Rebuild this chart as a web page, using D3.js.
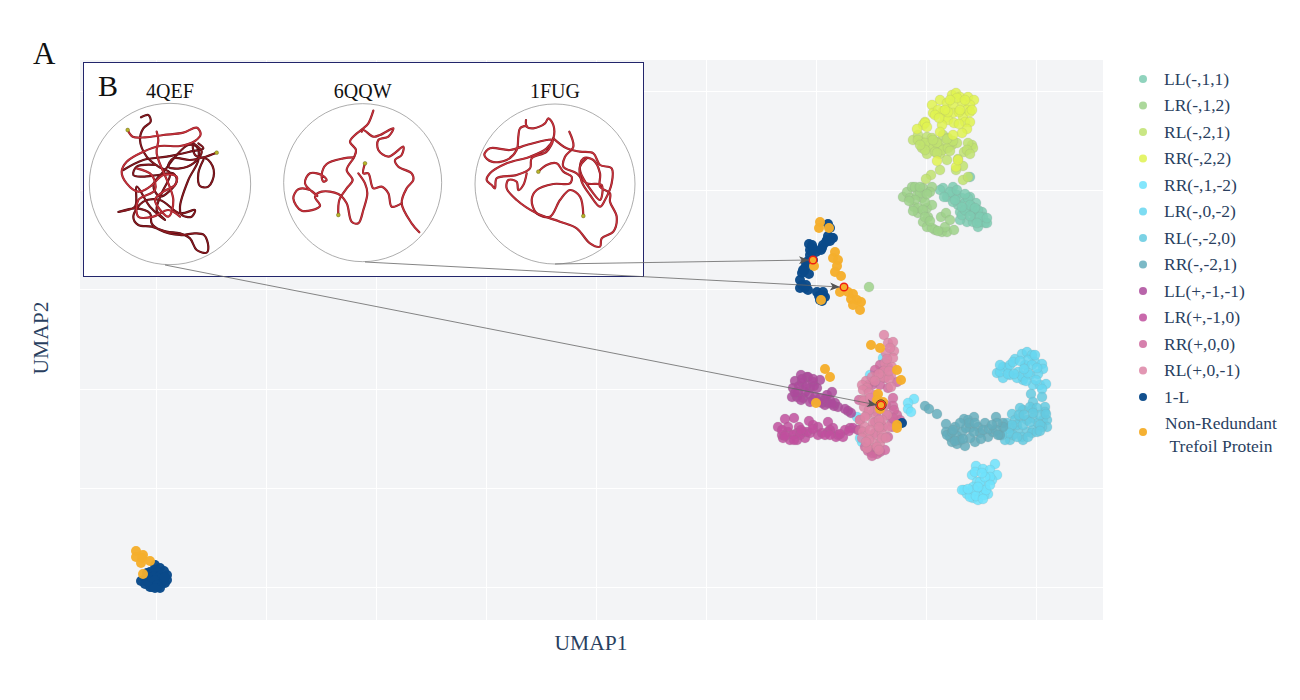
<!DOCTYPE html>
<html><head><meta charset="utf-8">
<script src="https://cdn.jsdelivr.net/npm/d3@7/dist/d3.min.js"></script>
<style>html,body{margin:0;padding:0;background:#fff}svg{display:block}text{font-family:"Liberation Serif",serif}</style>
</head><body><div id="chart"></div>
<script>
// UMAP embedding values [umap1, umap2]
const LL_m_1_1=[[86.3,43.2],[87.3,43.3],[86,43],[86.7,42.3],[87.2,42.7],[87.7,42.5],[88.2,42.2],[89,42.3],[87.8,41.5],[88.5,41.7],[89.6,41.7],[87.3,41.8],[88.7,40.8],[89.3,40.8],[90.2,40.8],[88,40.8],[88.7,39.8],[88,40],[89.5,40.2],[90.5,39.7],[89.8,39.3],[89.3,39.8],[90.3,40.3],[88.8,42.2],[89.2,41.3],[88.2,40.5],[90,39.8],[89,44.3],[90.7,39.7],[87.5,42],[88.5,41],[89,41.5],[89.8,41],[90,40.3],[88.2,41.3],[87,42.8],[86.4,42.3],[89.5,41.2],[90.7,40.2],[89,40.4],[89.7,39.7],[87.7,43],[88.5,42.6]];
const LR_m_1_2=[[82.3,42.3],[82.7,42.8],[83.2,43.3],[83,42.2],[83.7,42.5],[84.3,43.2],[85.2,43.3],[84.2,42.2],[83.4,41.3],[83.8,40.7],[84.7,41.2],[85.2,41.5],[84.3,39.8],[84.8,40.3],[84.7,39.3],[85.5,39],[86.2,38.8],[86.7,38.8],[87.4,39],[86.5,39.3],[86.1,40.3],[86.6,40.7],[87,40],[83.5,43.3],[84,42.7],[84.5,41.8],[85,42.8],[85.2,39.2],[78.9,33.3],[83.5,42],[84,43.3],[84.7,42.6],[83.8,41.2],[84.3,41],[84.5,40.3],[85,39.9],[85.8,38.9],[82.9,41.9],[83.3,40.9]];
const RL_m_2_1=[[83.3,48],[83.8,48.5],[84.2,47.8],[84.7,48.3],[85.2,48.2],[85.7,47.8],[86.3,48.5],[86.5,47.7],[87.2,47.5],[87.7,47.7],[84.2,47.2],[84.7,46.6],[85.3,47.3],[86,47.2],[86,46.6],[86.8,48.2],[85,47.5],[88.4,46.8],[89.2,47.5],[89.3,47.2],[88.8,47.7],[83.8,48],[86.7,46],[86,45],[85.1,44.5],[84.6,44.1],[87.8,46.1],[88.3,45.4],[87.6,45],[88.3,44],[88.8,44.3],[85.7,47.7],[86.3,47],[84.5,47.7],[84.5,47],[85.5,46.8],[86.8,47.2],[87.3,47.9],[84,47.5],[88.7,47],[85.3,48],[86.7,48.1],[87,46.9],[85.7,46.7],[89,46.6]];
const RR_m_2_2=[[87.2,52.5],[87.6,52.7],[88,52.3],[88.8,52.3],[89.4,52],[86,52],[85.2,51.5],[86.7,51.7],[88.2,51.8],[89,51.5],[87.3,51.5],[85.3,50.7],[86.3,50.9],[87.3,50.7],[88.7,51],[88.3,50.3],[86.5,50.2],[86.8,50],[87.4,49.7],[88.5,49.8],[89,49.8],[84.5,49.8],[84.3,49.5],[83.7,49.1],[86.2,49.5],[88.7,49.1],[86,48.8],[88.2,48.7],[87.3,48.5],[85.7,45.9],[87.6,45.3],[87.8,46],[89,50.8],[85.8,51],[85.5,50.5],[86.8,50.8],[87.7,52.2],[84.5,49.7],[84.7,49.3],[87,52],[88.5,52],[86.5,51],[87.9,50.8],[85.9,50.2],[89.2,51],[88,51],[87.9,49.6]];
const RR_m_1_m2=[[89.6,15.4],[91.5,15.6],[89.2,14.5],[90.3,15.1],[91,15],[91.7,14.5],[89.7,13.8],[91.2,14],[90.5,13.5],[88.4,13],[88.7,12.6],[89.3,12.2],[89.9,12.8],[90.8,12.6],[89.8,12],[89.3,13.3],[88.2,13],[91,14.3],[89,12.3],[90,13.8],[83.4,22.1],[82.8,21.7],[82.8,21.1],[83.1,20.8],[79,24.5],[79.5,23.8],[80.3,26.2],[77.7,20.3],[78.2,17.8],[78,18.2],[89.5,14.8],[90.5,14.3],[90.2,14.7],[89.4,13],[90.2,12.8],[89.6,12.4],[90.4,12.5],[88.8,13.1],[90.6,13],[89.8,13.3],[91,13.5],[90.3,12.1]];
const LR_m_0_m2=[[91.7,24.7],[92.3,25.3],[92.7,25.2],[93,24.5],[92.3,24.2],[93.5,26.1],[94.2,26.6],[94.7,26.8],[95.2,26.5],[95.5,25.8],[96.2,25.6],[96.3,25.1],[95.8,24.6],[94.5,25.5],[93.8,24.8],[94.3,24],[95,24.5],[95.3,23.5],[96,23.5],[96.6,23.6],[93.7,24.2],[93,25.5],[94.8,26],[92,24.8],[95.2,25.5],[93.3,25.8],[92,25.5],[92.8,24.6],[94,25.9],[94.2,24.4],[95.7,25.2],[94.6,23.9],[95.6,24],[96.2,23.1],[93.4,24.6],[94.8,24.7],[94.4,25.1],[95.5,26.5]];
const RL_m_m2_0=[[95.1,22.6],[96.2,22.3],[95.3,21.8],[95.2,21.1],[96.5,21.3],[94.3,21],[93.2,20.6],[94,20.2],[95.3,20.2],[96.3,20],[96.7,20],[96.5,20.8],[93,19.2],[93.8,19],[94.7,18.8],[95.3,19],[95.8,19.7],[96.7,19.3],[96.2,19.3],[93.5,20],[92.7,19.7],[93,18],[94.2,18.3],[94.3,18],[92.5,19],[95.2,18.7],[93.3,18.5],[92.5,18],[95.7,18.8],[94.7,20],[94,21.2],[95,21.3],[95.7,21.2],[96,20.5],[93.7,19.5],[94.3,19.5],[95,19.8],[93.2,19.5],[96,19.5],[95.3,20.7],[92.9,18.7],[93.7,18.3],[92.2,18.5],[94.8,18.3],[93.9,20.5],[96.6,20.6],[94.4,20.5],[96,18.9]];
const RR_m_m2_1=[[84.5,21.4],[84.9,21.1],[85.7,20.6],[86.6,19.6],[88.4,20.1],[89.4,20.3],[87.5,19.3],[86.6,18.8],[87,18.3],[88.2,18.8],[89,19.2],[89.8,19.3],[90.5,19.7],[91.6,20.3],[92.3,19.7],[87.7,17.6],[88.5,17.4],[89.5,17.8],[89,18.2],[90,18.7],[90.8,18.3],[92,18.5],[91.3,18.8],[92.3,19.3],[91.7,19.7],[87.2,17.8],[86.7,18.5],[88.8,20],[87.2,18.8],[87.7,18.4],[88.6,19.2],[89.4,18.8],[90.3,19],[90.9,19.1],[91.6,19],[88,18],[87.5,17.9],[88.9,19.7],[89.5,19.7],[90.1,18.1],[87.3,19],[91.2,19.5],[91.8,18.5],[88.3,18.1],[88,19.7]];
const LL_p_m1_m1=[[71.5,23.9],[72.1,24.5],[72.7,24.3],[74,24],[73,23.2],[73.7,23.2],[71.3,23.2],[71.2,22.3],[71.8,22.8],[72.3,22.2],[73.3,22],[74.5,21.5],[75.2,22.8],[75,22],[75.8,21.3],[76.8,20.9],[77.1,20.7],[72.8,24.3],[72.2,23.7],[73.3,23.8],[71.7,22.3],[72.5,22.8],[74.2,21.7],[75.5,21.7],[74.8,21.7],[71.9,23.4],[72.6,23.4],[73.4,23.4],[72.9,22.6],[73.5,22.3],[74,22.2],[74.5,22.1],[71.5,22.7],[74.7,22.5],[72.1,22],[73,21.8],[75.4,21.4],[73.9,21.8],[72.2,24.1],[73.3,24.1],[75.2,21.6],[76.5,21.1]];
const LR_p_m1_0=[[70.5,20.1],[69.8,19.3],[71.4,20.2],[72.9,19.9],[74.8,19.8],[71.9,19.3],[73.8,19.3],[70.2,18.5],[70.8,18.8],[71,18],[71.7,18],[72.5,18.2],[73,18.7],[73.8,18.5],[74.8,18.8],[75.8,18.5],[76.3,18.3],[75.3,19.2],[77,19.2],[77.8,19],[72.3,18.8],[73.3,19.5],[70.3,18.2],[71.7,18.7],[76.5,19],[77.3,19.2],[70.8,19.3],[70.2,19],[71.3,18.5],[72,18.5],[72.7,18.8],[74.2,18.7],[75,19],[75.6,18.3],[76,18.6],[70.5,18.4],[71.4,18],[74.5,18.5],[72.1,19],[73.3,19.1],[76.9,18.9],[75,18.5]];
const RR_p_0_0=[[80,25.5],[80.8,25.3],[79.7,24.5],[80.5,24.2],[81.7,23.8],[80,23.5],[79.2,23.5],[77.9,22],[81.3,22.2],[81.3,21.4],[81.7,20.5],[80,19.8],[81.2,19.8],[80.7,20.5],[79,21.7],[80.8,18.3],[80,16.8],[79.2,16.7],[78.5,17.3],[79.5,18.7],[80.3,19.3],[78,20],[79.7,20.8],[81.2,19.3],[79,17],[82,20],[78,19],[79.5,25],[80.3,24.9],[79.3,23.9],[78.8,23.5],[80.8,23.2],[81.4,21],[80.6,21.5],[79.5,19.8],[79.6,17.2],[80.5,17],[79.7,16.6],[78.8,16.9],[79.2,16.4],[81.3,20.2]];
const RL_p_0_m1=[[80.4,28.5],[80.8,27.7],[81.3,27.8],[81.4,26.9],[80.6,26.7],[81.3,26.2],[80.5,25.7],[81.2,25.3],[80.4,24.9],[81.1,24.5],[80.3,24.3],[80.9,24.1],[81.1,23.3],[78.6,23.9],[79.2,24.3],[78.2,23.5],[78.7,23.2],[79.5,22.5],[78.3,22],[78.4,21.3],[79.3,20.7],[78.7,20.5],[79.5,21.2],[80.3,21.3],[80.7,20.5],[78,20],[78.5,19.3],[79.3,19.7],[80,19.2],[80.8,19.3],[78.3,18.8],[79.5,18.5],[78.8,18.5],[78.2,18.2],[80,17.7],[79.3,17.7],[78.7,17.2],[79.7,17.3],[80.2,20],[79.2,21.7],[80.7,26.1],[81,27.2],[79.9,24.6],[80.9,24.9],[79.5,23.9],[78.3,23],[78.9,22.7],[79.9,20],[78.9,21],[79.8,21.5],[80.2,18.6],[79,19],[78.5,20.3],[78.9,18],[80.2,18.2],[79.9,17],[78.4,21.9],[79,22.2],[79.9,19.3],[78.6,17.8],[80.6,18.2]];
const oneL=[[74.8,39.6],[75,39.2],[75.2,38.2],[74.7,38],[74.3,37.5],[72.9,37.6],[73.3,37.2],[73,36.5],[73.3,36],[72.5,35.2],[72.2,34.7],[72.9,34.6],[72,34],[72,33.2],[72.5,33.2],[72.8,33],[73.7,32.8],[74.3,32.5],[74,32],[74.5,32.3],[74.2,31.9],[73.2,36.8],[75.3,38.2],[74.2,37.2],[72.3,35],[72.2,33.5],[82.2,19.7],[73.6,36.8],[74.1,37],[74.6,37.8],[75,37.9],[74.8,38.4],[73,37],[73.2,37.5],[72.6,35.7],[72.8,35.9],[72.4,34.9],[72.6,33.5],[74.3,32.8],[73.9,32.4],[7.5,5.5],[8,5.2],[7,4.8],[8.7,4.5],[8.2,4.3],[7.3,4.3],[6.7,4.7],[6.1,3.9],[6.7,3.8],[7.5,3.7],[8.5,3.7],[7.2,3.3],[7.8,3.3],[8,3.8],[7.7,4.8],[6.8,4.2],[8.7,4],[7.2,3.8],[7.5,5],[7.8,4.8],[7.4,4.4],[8,4.4],[7,4],[7.5,4],[8.2,3.7],[7.7,3.5],[6.5,4.1],[8.4,4.9],[8,3.2],[7,3.3],[7.5,3.2],[6.5,3.6],[8.5,4.3]];
const nonRedundant=[[74,39.8],[73.9,39.2],[74.9,39.2],[75.5,36.8],[75.3,36.2],[75.8,36],[75.7,35.4],[75.5,34.8],[76.1,34.4],[73.4,35.4],[74.1,32],[76,32.8],[76.8,32.8],[77.3,32.6],[77.1,32.1],[77.7,32],[78.1,31.8],[77.3,31.5],[78,31],[79.1,27.5],[80,27.2],[81.7,25],[82.1,24],[74.5,25.1],[75,24.3],[73.6,21.7],[79.8,22.6],[79.7,22],[80.3,21.8],[80,21.1],[81.7,19.5],[81.7,19.2],[5.6,6.9],[5.6,6.3],[6.3,6.5],[6.2,6.2],[6.1,5.7],[7,5.9],[6.3,4.6]];
const highlighted=[[73.3,36],[76.4,33.3],[80.1,21.5]];
const xTickValues=[7.6,18.6,29.6,40.6,51.6,62.6,73.6,84.6,95.6];
const yTickValues=[3.3,13.2,23.1,33.1,43,52.9];

const legendLabels=["LL(-,1,1)","LR(-,1,2)","RL(-,2,1)","RR(-,2,2)","RR(-,1,-2)","LR(-,0,-2)","RL(-,-2,0)","RR(-,-2,1)","LL(+,-1,-1)","LR(+,-1,0)","RR(+,0,0)","RL(+,0,-1)","1-L","Non-Redundant|Trefoil Protein"];
const seriesColors=["#7dcbb1","#9dd18a","#c0e26e","#dff250","#6de2fc","#66d6f0","#64cae0","#64adbc","#ab4a9b","#c04f9d","#cf6a9f","#dd85a6","#0a4a8a","#f5ae2c"];
const seriesData=[LL_m_1_1,LR_m_1_2,RL_m_2_1,RR_m_2_2,RR_m_1_m2,LR_m_0_m2,RL_m_m2_0,RR_m_m2_1,LL_p_m1_m1,LR_p_m1_0,RR_p_0_0,RL_p_0_m1,oneL,nonRedundant];

// inset structures, in inset image coordinates
const structNames=["4QEF","6QQW","1FUG"];
const qefDark=[[183,172],[205,165],[212,185],[190,205],[180,240],[200,290],[235,320],[270,340],[245,400],[230,450],[255,480],[210,440],[170,380],[165,440],[115,456],[165,445],[210,460],[215,490],[240,510],[300,525],[345,520],[372,525],[385,560],[380,578],[350,570],[330,535],[300,520],[260,515],[215,500],[175,495],[160,470],[190,425],[240,420],[300,460],[345,450],[335,470],[305,465],[300,440],[325,360],[355,300],[350,260],[325,255],[290,285],[255,330],[220,375],[240,410],[290,365],[280,340],[235,345],[185,350],[160,345],[170,320],[230,315]];
const qefDarkTwo=[[130,330],[190,300],[260,290],[330,275],[370,265],[355,250]];
const qefBright=[[143,210],[158,230],[195,232],[250,225],[310,218],[350,203],[362,222],[345,243],[300,258],[240,258],[190,275],[140,305],[125,335],[140,370],[175,395],[210,380],[250,345],[290,350],[285,375],[250,395],[225,420],[265,470],[280,420],[230,280],[235,240],[230,215]];
const qefBrightTwo=[[170,325],[215,345],[225,390],[175,420],[175,470],[220,470],[265,450],[300,470]];
const qefEnd=[[410,278],[370,292],[330,300],[280,295],[265,320],[300,325],[340,310],[365,275],[340,252],[345,285],[385,300],[402,340],[385,380],[360,378],[355,340],[370,300]];
const qqwOne=[[775,465],[778,420],[800,385],[818,360],[800,330],[822,292],[828,270],[810,245],[825,225],[850,205],[865,190],[880,152]];
const qqwTwo=[[845,215],[850,210],[880,230],[900,225],[940,205],[925,230],[895,240],[895,270],[925,290],[970,260],[965,285],[945,300],[955,320],[995,340],[1000,360],[980,385],[965,430],[995,490],[1018,517]];
const qqwThree=[[855,310],[850,340],[865,340],[880,385],[905,380],[925,400],[935,440],[965,430]];
const qqwFour=[[835,340],[855,370],[862,400],[850,450],[835,490],[815,485],[800,430],[775,402],[725,395],[705,410],[720,438],[665,452],[640,415],[655,388],[690,390],[712,408],[675,370],[690,340],[725,345],[740,360],[730,365],[725,345],[740,312],[790,295],[822,292]];
const fugOne=[[498,180],[500,200],[520,205],[555,190],[565,175],[580,195],[580,235],[560,265],[510,290],[440,310],[390,340],[380,360],[395,375],[405,385],[410,355],[470,345],[510,325],[515,295],[560,275],[578,240],[560,240],[500,255],[450,270],[390,265],[373,285],[395,305],[440,300],[470,270],[475,230],[480,205],[500,197]];
const fugTwo=[[535,335],[560,315],[590,310],[610,335],[635,350],[630,370],[580,372],[530,390],[515,420],[530,460],[570,470],[600,420],[630,390],[660,410],[670,468]];
const fugThree=[[628,215],[640,260],[615,290],[610,320],[650,340],[680,370],[725,375],[720,420],[700,400],[660,330],[670,295],[700,300],[720,340],[720,380],[750,400],[750,425],[770,470],[760,515],[725,535],[720,560],[690,550],[650,505],[600,485],[530,460],[470,420],[440,385],[445,360],[470,365],[475,390],[490,375],[500,340]];
const fugFour=[[580,235],[620,265],[660,275],[700,280],[720,315],[755,325],[755,370],[735,420],[720,440],[690,405],[665,365],[660,320],[680,295]];
const structCircles=[[270,372,242],[848,368,237],[1425,372,240]];
const structTitleX=[270,848,1425];
const endDots=[[143,210],[410,278],[775,465],[855,310],[1375,335],[1510,468]];
const connectorStarts=[[1425,612],[855,606],[255,615]];

const W=1300,H=700;
const m={l:80,r:1103,t:60,b:620};
const x=d3.scaleLinear().domain([0,102.3]).range([m.l,m.r]);
const y=d3.scaleLinear().domain([0,56]).range([m.b,m.t]);
const ix=d3.scaleLinear().domain([0,870]).range([80,370]);
const iy=d3.scaleLinear().domain([0,660]).range([60,280]);

const svg=d3.select("#chart").append("svg").attr("width",W).attr("height",H);
const defs=svg.append("defs");
defs.append("marker").attr("id","arrow").attr("viewBox","0 0 10 8").attr("refX",10).attr("refY",4)
 .attr("markerWidth",10).attr("markerHeight",8).attr("markerUnits","userSpaceOnUse").attr("orient","auto")
 .append("path").attr("d","M0,0L10,4L0,8L2.5,4Z").attr("fill","#555");

svg.append("rect").attr("x",m.l).attr("y",m.t).attr("width",m.r-m.l).attr("height",m.b-m.t).attr("fill","#f3f4f6");
const gx=svg.append("g").attr("transform",`translate(0,${m.b})`)
 .call(d3.axisBottom(x).tickValues(xTickValues).tickSize(-(m.b-m.t)).tickFormat(""));
const gy=svg.append("g").attr("transform",`translate(${m.l},0)`)
 .call(d3.axisLeft(y).tickValues(yTickValues).tickSize(-(m.r-m.l)).tickFormat(""));
[gx,gy].forEach(g=>{g.select(".domain").remove();g.selectAll("line").attr("stroke","#fff").attr("stroke-width",1);});

seriesData.forEach((pts,i)=>{
  const isL=i>=12;
  svg.append("g").selectAll("circle").data(pts).join("circle")
   .attr("cx",d=>x(d[0])).attr("cy",d=>y(d[1])).attr("r",5)
   .attr("fill",seriesColors[i]).attr("fill-opacity",isL?0.97:0.85)
   .attr("stroke",isL?"none":"#888").attr("stroke-opacity",0.3).attr("stroke-width",0.5);
});

// inset
svg.append("rect").attr("x",83.5).attr("y",62.5).attr("width",560).attr("height",214)
 .attr("fill","#fff").attr("stroke","#22256b").attr("stroke-width",1);
structCircles.forEach(c=>{
  svg.append("circle").attr("cx",ix(c[0])).attr("cy",iy(c[1])).attr("r",c[2]/3)
   .attr("fill","none").attr("stroke","#8a8a8a").attr("stroke-width",0.7);
});
const tube=d3.line().x(d=>ix(d[0])).y(d=>iy(d[1])).curve(d3.curveCatmullRom.alpha(0.5));
function strand(pts,off,dark){
  const p=pts.map(d=>[d[0]+off,d[1]]);
  svg.append("path").attr("d",tube(p)).attr("fill","none").attr("stroke",dark?"#4a0a10":"#8a1a20").attr("stroke-width",2.2).attr("stroke-linecap","round");
  svg.append("path").attr("d",tube(p)).attr("fill","none").attr("stroke",dark?"#8c1a20":"#c9343e").attr("stroke-width",1.2).attr("stroke-linecap","round");
}
strand(qefDark,0,true);strand(qefDarkTwo,0,true);strand(qefBright,0,false);strand(qefBrightTwo,0,false);strand(qefEnd,0,true);
strand(qqwOne,0,false);strand(qqwTwo,0,false);strand(qqwThree,0,false);strand(qqwFour,0,false);
[fugOne,fugTwo,fugThree,fugFour].forEach(s=>strand(s,840,false));
svg.append("g").selectAll("circle").data(endDots).join("circle")
 .attr("cx",d=>ix(d[0])).attr("cy",d=>iy(d[1])).attr("r",1.9).attr("fill","#b9b42a").attr("stroke","#55520f").attr("stroke-width",0.4);
structNames.forEach((n,i)=>{
  svg.append("text").attr("x",ix(structTitleX[i])).attr("y",98).attr("text-anchor","middle")
   .attr("font-size",20).attr("fill","#111").text(n);
});
svg.append("text").attr("x",98).attr("y",96).attr("font-size",30).attr("fill","#111").text("B");
svg.append("text").attr("x",33).attr("y",64).attr("font-size",31).attr("fill","#111").text("A");

// highlighted points + connectors
svg.append("g").selectAll("circle").data(highlighted).join("circle")
 .attr("cx",d=>x(d[0])).attr("cy",d=>y(d[1])).attr("r",3.8)
 .attr("fill","#f5ae2c").attr("stroke","#f01d12").attr("stroke-width",1.4);
svg.append("circle").attr("cx",x(highlighted[2][0])).attr("cy",y(highlighted[2][1])).attr("r",5.2).attr("fill","none").attr("stroke","#3a1a10").attr("stroke-width",0.7);
connectorStarts.forEach((s,i)=>{
  svg.append("line").attr("x1",ix(s[0])).attr("y1",iy(s[1])).attr("x2",x(highlighted[i][0])-4).attr("y2",y(highlighted[i][1]))
   .attr("stroke","#666").attr("stroke-width",0.8).attr("marker-end","url(#arrow)");
});

// axis titles
svg.append("text").attr("x",591).attr("y",650).attr("text-anchor","middle").attr("font-size",21.5).attr("fill","#2a3f5f").text("UMAP1");
svg.append("text").attr("transform","translate(48,338) rotate(-90)").attr("text-anchor","middle").attr("font-size",21.5).attr("fill","#2a3f5f").text("UMAP2");

// legend
const legendRow=d3.scaleLinear().domain([0,1]).range([79,105.5]);
legendLabels.forEach((l,i)=>{
  const yy=i<13?legendRow(i):432;
  svg.append("circle").attr("cx",1143).attr("cy",yy).attr("r",4).attr("fill",seriesColors[i]).attr("fill-opacity",i>=12?0.97:0.85);
  if(i<13){
    svg.append("text").attr("x",1164).attr("y",yy+5.5).attr("font-size",17.5).attr("fill","#2a3f5f").text(l);
  }else{
    l.split("|").forEach((t,k)=>svg.append("text").attr("x",1221).attr("y",429+k*23).attr("text-anchor","middle").attr("font-size",17.5).attr("fill","#2a3f5f").text(t));
  }
});
</script></body></html>
